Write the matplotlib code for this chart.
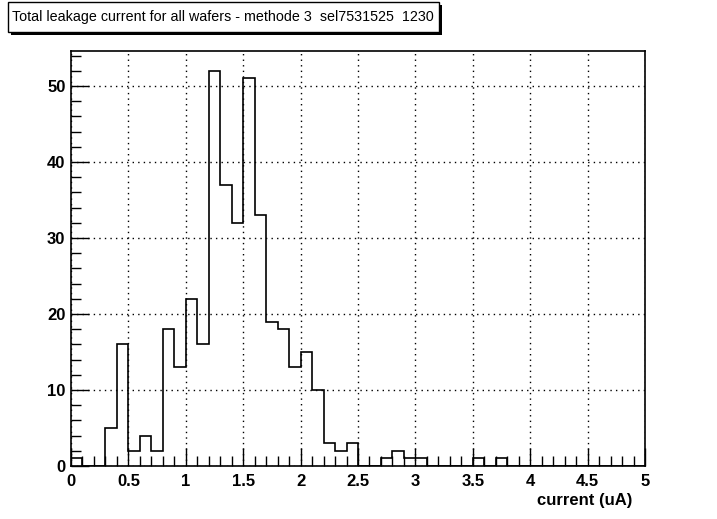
import numpy as np
import matplotlib.pyplot as plt
from matplotlib.ticker import MultipleLocator

# Histogram contents, 50 bins of 0.1 uA from 0 to 5
bin_edges = np.linspace(0, 5, 51)
counts = [1, 0, 0, 5, 16, 2, 4, 2, 18, 13,
          22, 16, 52, 37, 32, 51, 33, 19, 18, 13,
          15, 10, 3, 2, 3, 0, 0, 1, 2, 1,
          1, 0, 0, 0, 0, 1, 0, 1, 0, 0,
          0, 0, 0, 0, 0, 0, 0, 0, 0, 0]

title = "Total leakage current for all wafers - methode 3  sel7531525  1230"
xlabel = "current (uA)"

plt.rcParams['font.family'] = ['Liberation Sans', 'DejaVu Sans']

fig = plt.figure(figsize=(7.17, 5.19), dpi=100)
ax = fig.add_axes([71 / 717, 1 - 466 / 519, (645 - 71) / 717, (466 - 51) / 519])

ax.stairs(counts, bin_edges, color='black', linewidth=1.2)

ax.set_xlim(0, 5)
ax.set_ylim(0, 1.05 * max(counts))

ax.xaxis.set_major_locator(MultipleLocator(0.5))
ax.xaxis.set_minor_locator(MultipleLocator(0.1))
ax.yaxis.set_major_locator(MultipleLocator(10))
ax.yaxis.set_minor_locator(MultipleLocator(2))
ax.xaxis.set_major_formatter(plt.FuncFormatter(lambda v, p: f"{v:g}"))

ax.tick_params(which='both', direction='in', top=False, right=False,
               labelsize=12, width=1)
ax.tick_params(which='major', length=13)
ax.tick_params(which='minor', length=7)
ax.tick_params(axis='x', which='major', pad=6)
ax.tick_params(axis='y', which='major', pad=4)
for lab in ax.get_xticklabels() + ax.get_yticklabels():
    lab.set_fontweight('bold')

ax.grid(True, which='major', linestyle=(0, (1, 3)), color='black', linewidth=1)
for s in ax.spines.values():
    s.set_linewidth(1.2)

fig.text(632 / 717, 1 - 500 / 519, xlabel, ha='right', va='center',
         fontsize=12, fontweight='bold')

# title box with drop shadow, ROOT style
fig.patches.append(plt.Rectangle((11 / 717, 1 - 35 / 519), 431 / 717, 30 / 519,
                                 transform=fig.transFigure, facecolor='black',
                                 edgecolor='none'))
fig.patches.append(plt.Rectangle((8 / 717, 1 - 32 / 519), 431 / 717, 30 / 519,
                                 transform=fig.transFigure, facecolor='white',
                                 edgecolor='black', linewidth=1))
fig.text(12 / 717, 1 - 17 / 519, title, ha='left', va='center', fontsize=10.3)

fig.savefig('out.png', dpi=100)
